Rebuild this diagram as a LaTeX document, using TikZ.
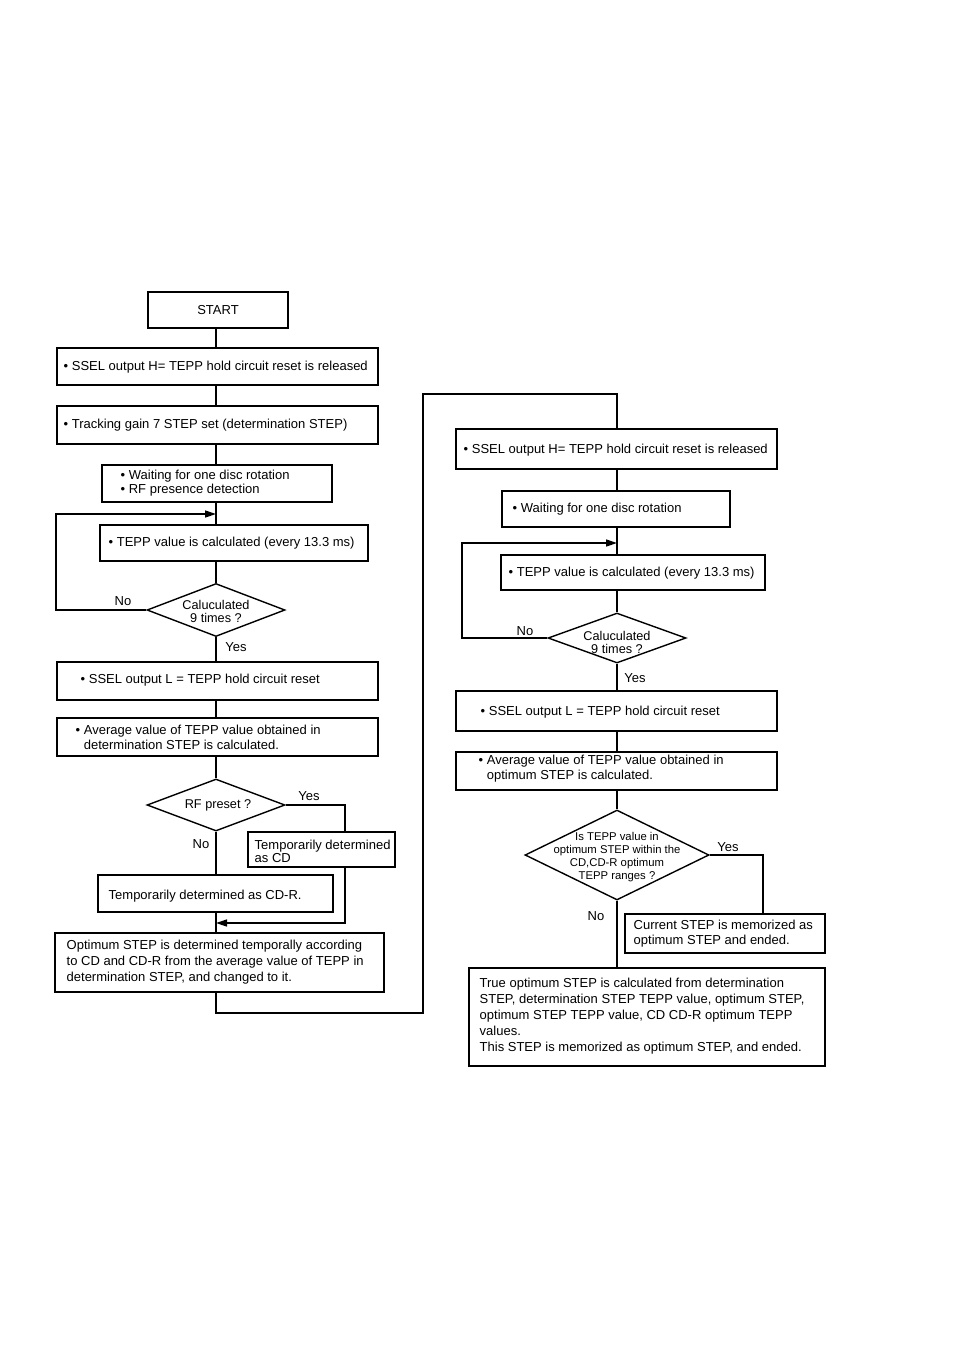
\documentclass[tikz,border=0pt]{standalone}
\usepackage{fontspec}
\setmainfont{Liberation Sans}
\usetikzlibrary{shapes.geometric,arrows.meta}
\begin{document}
\begin{tikzpicture}[x=1pt,y=-1pt,line width=1.4pt,line join=miter,
  box/.style={draw,rectangle,inner sep=0pt},
  dia/.style={draw,diamond,inner sep=0pt},
  txt/.style={anchor=west,inner sep=0pt,align=left,font=\fontsize{13}{15}\selectfont},
  ctxt/.style={inner sep=0pt,align=center,font=\fontsize{12.7}{13}\selectfont},
  lbl/.style={inner sep=0pt,font=\fontsize{13}{15}\selectfont},
  arr/.style={-{Triangle[length=11pt,width=7pt]}}]
\useasboundingbox (0,0) rectangle (954,1350);
\coordinate (mL) at (216,0);
\coordinate (mR) at (617,0);
% ---------- left column ----------
\node[box,minimum width=140,minimum height=36,font=\fontsize{13}{15}\selectfont] (start) at (218,310) {START};
\node[box,minimum width=321,minimum height=37] (sselh) at (217.5,366.5) {};
\node[txt] (t-sselh) at (63,367) {• SSEL output H= TEPP hold circuit reset is released};
\node[box,minimum width=321,minimum height=38] (track) at (217.5,425) {};
\node[txt] (t-track) at (63,425) {• Tracking gain 7 STEP set (determination STEP)};
\node[box,minimum width=230,minimum height=37] (wait) at (217,483.5) {};
\node[txt,font=\fontsize{13}{14.5}\selectfont] (t-wait) at (120,483) {• Waiting for one disc rotation\\• RF presence detection};
\node[box,minimum width=268,minimum height=36] (tepp) at (234,543) {};
\node[txt] (t-tepp) at (108,543) {• TEPP value is calculated (every 13.3 ms)};
\node[dia,minimum width=138,minimum height=53] (d1) at (216,610) {};
\node[ctxt] (t-d1) at (216,611) {Caluculated\\9 times ?};
\node[box,minimum width=321,minimum height=38] (ssell) at (217.5,681) {};
\node[txt] (t-ssell) at (80,680) {• SSEL output L = TEPP hold circuit reset};
\node[box,minimum width=321,minimum height=38] (avg) at (217.5,737) {};
\node[txt] (t-avg) at (75,737) {• Average value of TEPP value obtained in\\\phantom{• }determination STEP is calculated.};
\node[dia,minimum width=138,minimum height=52] (rfd) at (216,805) {};
\node[ctxt] (t-rfd) at (218,805) {RF preset ?};
\node[box,minimum width=147,minimum height=35] (cd) at (321.5,849.5) {};
\node[txt,font=\fontsize{13}{13}\selectfont] (t-cd) at (254,851) {Temporarily determined\\as CD};
\node[box,minimum width=235,minimum height=37] (cdr) at (215.5,893.5) {};
\node[txt] (t-cdr) at (108,896) {Temporarily determined as CD-R.};
\node[box,minimum width=329,minimum height=59] (opt) at (219.5,962.5) {};
\node[txt,font=\fontsize{13}{16}\selectfont] (t-opt) at (66,962) {Optimum STEP is determined temporally according\\to CD and CD-R from the average value of TEPP in\\determination STEP, and changed to it.};
% ---------- right column ----------
\node[box,minimum width=321,minimum height=40] (rsselh) at (616.5,449) {};
\node[txt] (t-rsselh) at (463,450) {• SSEL output H= TEPP hold circuit reset is released};
\node[box,minimum width=228,minimum height=36] (rwait) at (616,509) {};
\node[txt] (t-rwait) at (512,509) {• Waiting for one disc rotation};
\node[box,minimum width=264,minimum height=35] (rtepp) at (633,572.5) {};
\node[txt] (t-rtepp) at (508,573) {• TEPP value is calculated (every 13.3 ms)};
\node[dia,minimum width=138,minimum height=50] (d2) at (617,638) {};
\node[ctxt] (t-d2) at (617,642) {Caluculated\\9 times ?};
\node[box,minimum width=321,minimum height=40] (rssell) at (616.5,711) {};
\node[txt] (t-rssell) at (480,712) {• SSEL output L = TEPP hold circuit reset};
\node[box,minimum width=321,minimum height=38] (ravg) at (616.5,771) {};
\node[txt] (t-ravg) at (478,769) {• Average value of TEPP value obtained in\\\phantom{• }optimum STEP is calculated.};
\node[dia,minimum width=184,minimum height=90] (d3) at (617,855) {};
\node[ctxt,font=\fontsize{11.3}{13}\selectfont] (t-d3) at (617,857) {Is TEPP value in\\optimum STEP within the\\CD,CD-R optimum\\TEPP ranges ?};
\node[box,minimum width=200,minimum height=39] (cur) at (725,933.5) {};
\node[txt] (t-cur) at (633,934) {Current STEP is memorized as\\optimum STEP and ended.};
\node[box,minimum width=356,minimum height=98] (true) at (647,1017) {};
\node[txt,font=\fontsize{13}{16}\selectfont] (t-true) at (479,1016) {True optimum STEP is calculated from determination\\STEP, determination STEP TEPP value, optimum STEP,\\optimum STEP TEPP value, CD CD-R optimum TEPP\\values.\\This STEP is memorized as optimum STEP, and ended.};
% ---------- labels ----------
\node[lbl] (l-no1) at (123,601) {No};
\node[lbl] (l-yes1) at (236,647) {Yes};
\node[lbl] (l-yes2) at (309,796) {Yes};
\node[lbl] (l-no2) at (201,844) {No};
\node[lbl] (l-no3) at (525,631) {No};
\node[lbl] (l-yes3) at (635,678) {Yes};
\node[lbl] (l-yes4) at (728,847) {Yes};
\node[lbl] (l-no4) at (596,916) {No};
% ---------- coordinates ----------
\coordinate (lp1) at (56,514);
\coordinate (j1) at (216,514);
\coordinate (cdtop) at (345,832);
\coordinate (cdbot) at (345,867);
\coordinate (cdlow) at (345,923);
\coordinate (j2) at (216,923);
\coordinate (b1) at (216,1013);
\coordinate (b2) at (423,1013);
\coordinate (b3) at (423,394);
\coordinate (b4) at (617,394);
\coordinate (lp2) at (462,543);
\coordinate (j3) at (617,543);
\coordinate (curtop) at (763,914);
% ---------- left connectors ----------
\draw (start.south -| mL) -- (sselh.north -| mL);
\draw (sselh.south -| mL) -- (track.north -| mL);
\draw (track.south -| mL) -- (wait.north -| mL);
\draw (wait.south -| mL) -- (tepp.north -| mL);
\draw (tepp.south -| mL) -- (d1.north);
\draw[arr] (d1.west) -| (lp1) -- (j1);
\draw (d1.south) -- (ssell.north -| mL);
\draw (ssell.south -| mL) -- (avg.north -| mL);
\draw (avg.south -| mL) -- (rfd.north);
\draw (rfd.east) -| (cdtop);
\draw[arr] (cdbot) -- (cdlow) -- (j2);
\draw (rfd.south) -- (cdr.north -| mL);
\draw (cdr.south -| mL) -- (opt.north -| mL);
\draw (opt.south -| mL) -- (b1) -- (b2) -- (b3) -- (b4) -- (rsselh.north -| mR);
% ---------- right connectors ----------
\draw (rsselh.south -| mR) -- (rwait.north -| mR);
\draw (rwait.south -| mR) -- (rtepp.north -| mR);
\draw (rtepp.south -| mR) -- (d2.north);
\draw[arr] (d2.west) -| (lp2) -- (j3);
\draw (d2.south) -- (rssell.north -| mR);
\draw (rssell.south -| mR) -- (ravg.north -| mR);
\draw (ravg.south -| mR) -- (d3.north);
\draw (d3.east) -| (curtop);
\draw (d3.south) -- (true.north -| mR);
\end{tikzpicture}
\end{document}
